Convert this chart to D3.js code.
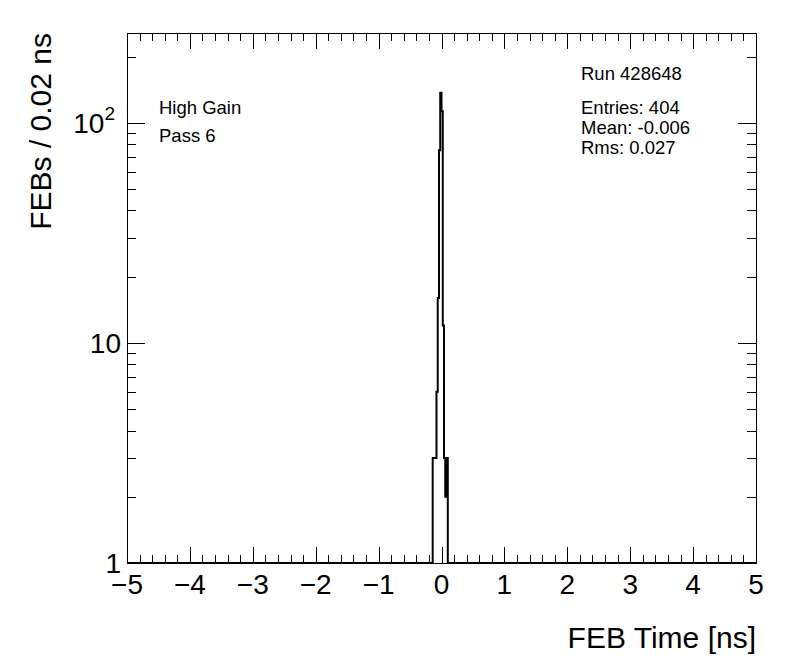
<!DOCTYPE html>
<html>
<head>
<meta charset="utf-8">
<script src="https://cdn.jsdelivr.net/npm/d3@7"></script>
<style>
  body { margin: 0; background: #fff; }
  svg { font-family: "Liberation Sans", Arial, sans-serif; }
</style>
</head>
<body>
<svg id="chart" width="796" height="672"></svg>
<script>
// histogram contents (only non-empty bins, lower edges in ns, bin width 0.02)
const binLow   = [-0.14, -0.12, -0.10, -0.08, -0.06, -0.04, -0.02, 0.00, 0.02, 0.04, 0.06, 0.08];
const binCount = [3, 3, 3, 6, 16, 75, 137, 113, 12, 3, 2, 3];
const binWidth = 0.02;
const xTicks = [-5, -4, -3, -2, -1, 0, 1, 2, 3, 4, 5];
const yTicks = [1, 10, 100];
const infoLeft  = ["High Gain", "Pass 6"];
const infoRight = ["Entries: 404", "Mean: -0.006", "Rms: 0.027"];
const runLabel = "Run 428648";

const margin = { top: 33, right: 40, bottom: 109, left: 127 };
const width = 796, height = 672;
const innerW = width - margin.left - margin.right;
const innerH = height - margin.top - margin.bottom;

const svg = d3.select("#chart");
const g = svg.append("g").attr("transform", `translate(${margin.left},${margin.top})`);

const x = d3.scaleLinear().domain([-5, 5]).range([0, innerW]);
const y = d3.scaleLog().domain([1, 256]).range([innerH, 0]);

// minor / major ticks, drawn inward on all four sides
const xMinor = d3.range(-5, 5.001, 0.2).map(v => +v.toFixed(1));
const yMinor = [];
[1, 10, 100].forEach(d => { for (let k = 2; k <= 9; k++) if (d * k <= 256) yMinor.push(d * k); });

function tickAxis(axisFn, scale, values, size, transform) {
  const a = g.append("g")
    .attr("transform", transform || null)
    .call(axisFn(scale).tickValues(values).tickSize(size).tickSizeOuter(0).tickFormat(""));
  a.select(".domain").remove();
  a.selectAll(".tick line").attr("stroke", "#000").attr("shape-rendering", "crispEdges");
}
tickAxis(d3.axisBottom, x, xMinor, -8, `translate(0,${innerH})`);
tickAxis(d3.axisBottom, x, xTicks, -16, `translate(0,${innerH})`);
tickAxis(d3.axisTop, x, xMinor, -8);
tickAxis(d3.axisTop, x, xTicks, -16);
tickAxis(d3.axisLeft, y, yMinor, -9);
tickAxis(d3.axisLeft, y, yTicks, -18);
tickAxis(d3.axisRight, y, yMinor, -9, `translate(${innerW},0)`);
tickAxis(d3.axisRight, y, yTicks, -18, `translate(${innerW},0)`);

// histogram outline
const nBins = Math.round(10 / binWidth);
const counts = new Array(nBins).fill(0);
binLow.forEach((lo, i) => { counts[Math.round((lo + 5) / binWidth)] = binCount[i]; });
const pts = [];
counts.forEach((c, i) => {
  const lo = -5 + i * binWidth, hi = lo + binWidth;
  const v = Math.max(c, 1);
  pts.push([x(lo), y(v)], [x(hi), y(v)]);
});
g.append("path")
  .attr("d", d3.line()(pts))
  .attr("fill", "none")
  .attr("stroke", "#000")
  .attr("stroke-width", 2);

// frame
g.append("rect")
  .attr("width", innerW).attr("height", innerH)
  .attr("fill", "none").attr("stroke", "#000").attr("stroke-width", 1)
  .attr("shape-rendering", "crispEdges");

// x tick labels
g.selectAll(".xlab").data(xTicks).enter().append("text")
  .attr("x", d => x(d)).attr("y", innerH + 31)
  .attr("text-anchor", "middle").attr("font-size", 28)
  .text(d => d < 0 ? "\u2212" + Math.abs(d) : d);

// y tick labels
const yl = g.selectAll(".ylab").data(yTicks).enter().append("text")
  .attr("x", d => d === 100 ? -12 : -6).attr("y", d => y(d) + 10)
  .attr("text-anchor", "end").attr("font-size", 28);
yl.each(function(d) {
  const t = d3.select(this);
  if (d === 100) {
    t.append("tspan").text("10");
    t.append("tspan").attr("dy", -13).attr("font-size", 19).text("2");
  } else {
    t.text(d);
  }
});

// axis titles
svg.append("text")
  .attr("x", margin.left + innerW).attr("y", 648)
  .attr("text-anchor", "end").attr("font-size", 30)
  .text("FEB Time [ns]");
svg.append("text")
  .attr("transform", `translate(51,${margin.top}) rotate(-90)`)
  .attr("text-anchor", "end").attr("font-size", 30)
  .text("FEBs / 0.02 ns");

// info texts
svg.selectAll(".il").data(infoLeft).enter().append("text")
  .attr("x", 159).attr("y", (d, i) => 114 + i * 28)
  .attr("font-size", 18.5).text(d => d);
svg.append("text").attr("x", 581).attr("y", 80).attr("font-size", 18.5).text(runLabel);
svg.selectAll(".ir").data(infoRight).enter().append("text")
  .attr("x", 581).attr("y", (d, i) => 114 + i * 20)
  .attr("font-size", 18.5).text(d => d);
</script>
</body>
</html>
